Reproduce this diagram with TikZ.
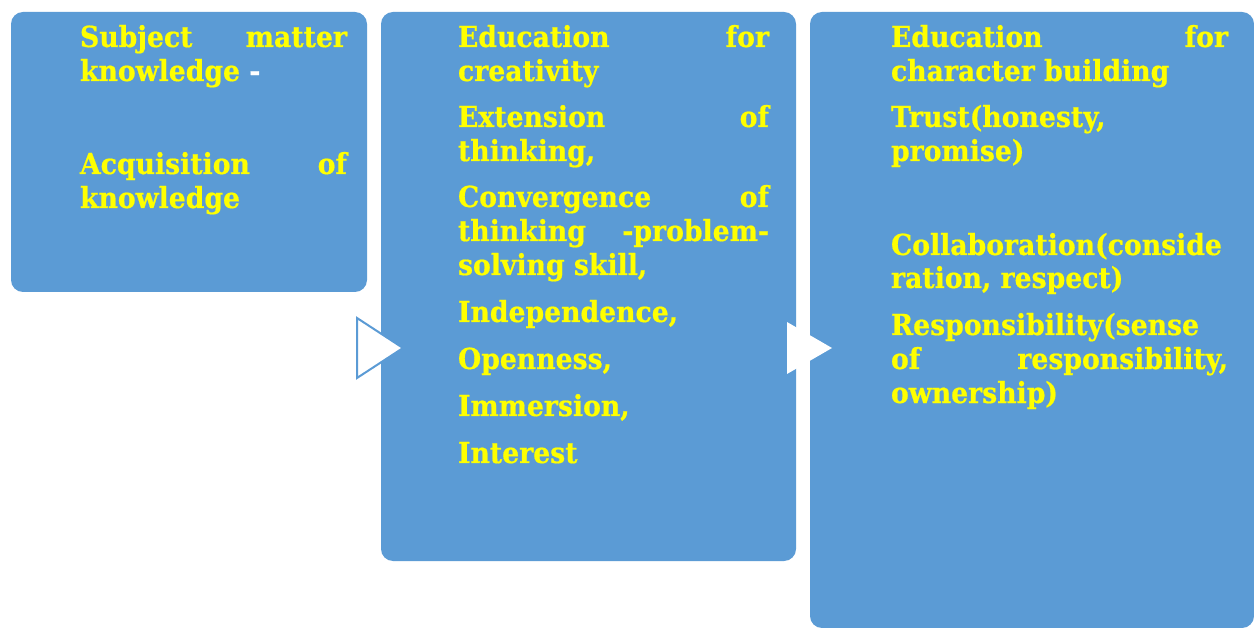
\documentclass[tikz,border=0pt]{standalone}
\usepackage{fontspec}
\setmainfont{DejaVu Serif}[BoldFeatures={FakeStretch=0.92,FakeBold=0.6}]
\definecolor{boxblue}{HTML}{5B9BD5}
\definecolor{txtyellow}{HTML}{FFFF00}
\begin{document}
\begin{tikzpicture}[x=1pt,y=-1pt,
  panel/.style={fill=boxblue, draw=none, rounded corners=12pt},
  ln/.style={anchor=base west, inner sep=0pt, outer sep=0pt, text=txtyellow,
    font=\bfseries\fontsize{29}{34}\selectfont},
  jw1/.style={ln, text width=267pt},
  jw2/.style={ln, text width=311pt},
  jw3/.style={ln, text width=337pt}]
\useasboundingbox (0,0) rectangle (1254,628);
\fill[white] (0,0) rectangle (1254,628);

% three panels
\fill[panel] (11,12) rectangle (367,292);
\fill[panel] (381,12) rectangle (796,561);
\fill[panel] (810,12) rectangle (1254,628);

% flow arrows between panels
\filldraw[fill=white, draw=boxblue, line width=2pt, line join=miter]
  (357,318) -- (403,348) -- (357,378) -- cycle;
\fill[white] (787,322) -- (832,348) -- (787,374) -- cycle;

% panel 1
\node[jw1] (a1) at (80,47) {Subject\hfill matter};
\node[ln]  (a2) at (80,81) {knowledge \textcolor{white}{-}};
\node[jw1] (a3) at (80,174) {Acquisition\hfill of};
\node[ln]  (a4) at (80,208) {knowledge};

% panel 2
\node[jw2] (b1) at (458,47) {Education\hfill for};
\node[ln]  (b2) at (458,81) {creativity};
\node[jw2] (b3) at (458,127) {Extension\hfill of};
\node[ln]  (b4) at (458,161) {thinking,};
\node[jw2] (b5) at (458,207) {Convergence\hfill of};
\node[jw2] (b6) at (458,241) {thinking\hfill -problem-};
\node[ln]  (b7) at (458,275) {solving skill,};
\node[ln]  (b8) at (458,322) {Independence,};
\node[ln]  (b9) at (458,369) {Openness,};
\node[ln]  (b10) at (458,416) {Immersion,};
\node[ln]  (b11) at (458,463) {Interest};

% panel 3
\node[jw3] (c1) at (891,47) {Education\hfill for};
\node[ln]  (c2) at (891,81) {character building};
\node[ln]  (c3) at (891,127) {Trust(honesty,};
\node[ln]  (c4) at (891,161) {promise)};
\node[ln]  (c5) at (891,255) {Collaboration(conside};
\node[ln]  (c6) at (891,288) {ration, respect)};
\node[ln]  (c7) at (891,335) {Responsibility(sense};
\node[jw3] (c8) at (891,369) {of\hfill responsibility,};
\node[ln]  (c9) at (891,403) {ownership)};
\end{tikzpicture}
\end{document}
